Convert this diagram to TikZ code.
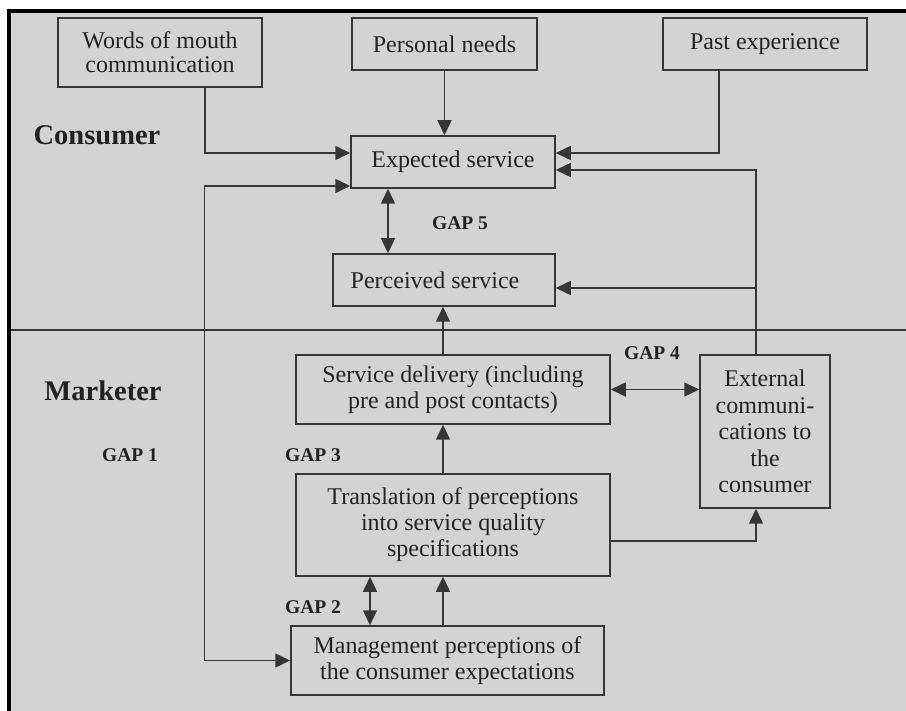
\documentclass[tikz,border=0pt]{standalone}
\usepackage{fontspec}
\setmainfont{Liberation Serif}
\usetikzlibrary{arrows.meta}
\definecolor{bg}{HTML}{D3D3D3}
\definecolor{ln}{HTML}{363636}
\definecolor{tx}{HTML}{222222}
\begin{document}
\begin{tikzpicture}[x=1pt,y=-1pt,
  box/.style={draw=ln, line width=1.5pt, inner sep=0pt, align=center, text=tx,
    font=\fontsize{24}{25.5}\selectfont},
  conn/.style={draw=ln, line width=1.5pt},
  arr/.style={conn, -{Triangle[length=15pt,width=14pt]}},
  darr/.style={conn, {Triangle[length=15pt,width=14pt]}-{Triangle[length=15pt,width=14pt]}},
  gap/.style={text=tx, font=\bfseries\fontsize{19.5}{20}\selectfont, inner sep=0pt},
  role/.style={text=tx, font=\bfseries\fontsize{28.5}{30}\selectfont, inner sep=0pt}]
\useasboundingbox (0,0) rectangle (906,711);
\fill[bg] (7,10) rectangle (906,711);
\draw[line width=4pt, black] (9,711) -- (9,11.5) -- (906,11.5);
\draw[conn] (11,330) -- (906,330);

\node[box, minimum width=204pt, minimum height=69pt, font=\fontsize{24}{24}\selectfont] (words) at (160,52.5) {Words of mouth\\communication};
\node[box, minimum width=185pt, minimum height=52pt] (pneeds) at (444.5,44) {Personal needs};
\node[box, minimum width=204pt, minimum height=52pt] (past) at (765,44) {Past experience};
\node[box, minimum width=204pt, minimum height=52pt] (expected) at (453,162) {Expected service};
\node[box, minimum width=222pt, minimum height=52pt] (perceived) at (444,280) {Perceived service\hspace*{18pt}};
\node[box, minimum width=314pt, minimum height=69pt] (delivery) at (453,389.5) {Service delivery (including\\pre and post contacts)};
\node[box, minimum width=130pt, minimum height=153pt, font=\fontsize{24}{26.5}\selectfont] (external) at (765,431.5) {External\\communi-\\cations to\\the\\consumer};
\node[box, minimum width=314pt, minimum height=102pt, font=\fontsize{24}{26}\selectfont] (translation) at (453,525) {Translation of perceptions\\into service quality\\specifications};
\node[box, minimum width=313pt, minimum height=69pt] (mgmt) at (447.5,660.5) {Management perceptions of\\the consumer expectations};

\node[role] (consumer) at (97,135) {Consumer};
\node[role] (marketer) at (103,391) {Marketer};
\node[gap] (gap1) at (130,455) {GAP 1};
\node[gap] (gap2) at (313,607) {GAP 2};
\node[gap] (gap3) at (313,455) {GAP 3};
\node[gap] (gap4) at (652,353) {GAP 4};
\node[gap] (gap5) at (460,223) {GAP 5};

\coordinate (et) at ([xshift=-9pt]external.north);
\coordinate (pe) at ([yshift=-8pt]perceived.east);
\coordinate (cx) at ([xshift=-10pt]delivery.north);
\coordinate (g5) at ([xshift=-65pt]expected.south);
\coordinate (g2) at ([xshift=-83pt]translation.south);
\coordinate (g1top) at ([yshift=-24pt]expected.west);

\draw[arr] ([xshift=45pt]words.south) |- ([yshift=9pt]expected.west);
\draw[arr] (pneeds.south) -- (pneeds.south |- expected.north);
\draw[arr] ([xshift=-46pt]past.south) |- ([yshift=9pt]expected.east);
\draw[arr] (et) |- ([yshift=-8pt]expected.east);
\draw[arr] (et |- pe) -- (pe);
\draw[darr] (g5) -- (g5 |- perceived.north);
\draw[arr] (cx) -- (cx |- perceived.south);
\draw[arr] (translation.north -| cx) -- (delivery.south -| cx);
\draw[darr] (delivery.east) -- (delivery.east -| external.west);
\draw[arr] ([yshift=-16pt]translation.east) -| (et |- external.south);
\draw[arr] (mgmt.north -| cx) -- (translation.south -| cx);
\draw[darr] (g2 |- mgmt.north) -- (g2);
\draw[darr] (g1top) -- ([xshift=-146pt]g1top) |- (mgmt.west);
\end{tikzpicture}
\end{document}
